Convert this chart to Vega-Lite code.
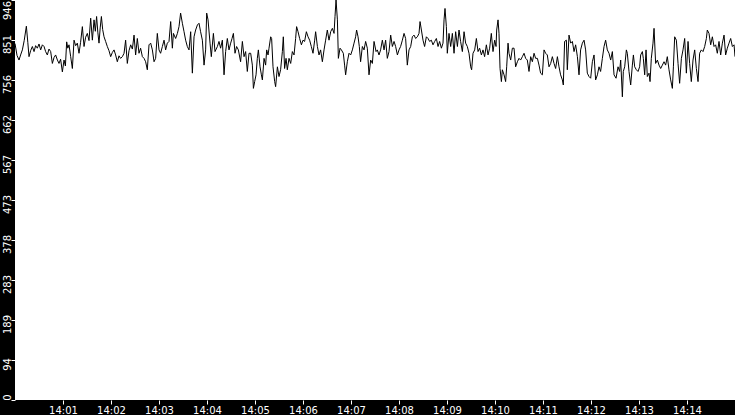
{
  "$schema": "https://vega.github.io/schema/vega-lite/v6.json",
  "autosize": {"type": "none"},
  "padding": {"left": 15, "top": 0, "right": 0, "bottom": 15},
  "width": 720,
  "height": 400,
  "background": "black",
  "data": {
    "values": [
      {"s":0,"v":843},{"s":2.5,"v":815},{"s":5,"v":804},{"s":7,"v":816},{"s":9.2,"v":828},{"s":11.5,"v":850},{"s":14.2,"v":884},{"s":16,"v":846},{"s":17.5,"v":812},{"s":19.5,"v":826},
      {"s":21.7,"v":836},{"s":23.8,"v":824},{"s":25.8,"v":838},{"s":27.9,"v":832},{"s":30,"v":842},{"s":32.1,"v":828},{"s":34.2,"v":840},{"s":36.3,"v":836},{"s":38.3,"v":824},{"s":40.4,"v":816},
      {"s":42.5,"v":830},{"s":44.6,"v":824},{"s":46.7,"v":796},{"s":48.8,"v":810},{"s":50.8,"v":816},{"s":53,"v":804},{"s":55,"v":796},{"s":57,"v":806},{"s":59.2,"v":776},{"s":61.3,"v":804},
      {"s":63,"v":790},{"s":64.6,"v":847},{"s":66,"v":832},{"s":67.5,"v":840},{"s":69.6,"v":812},{"s":71.7,"v":784},{"s":73.8,"v":851},{"s":75.8,"v":838},{"s":77.9,"v":844},{"s":80,"v":820},
      {"s":82,"v":846},{"s":84.2,"v":883},{"s":86.3,"v":836},{"s":88.3,"v":858},{"s":90.4,"v":867},{"s":92.5,"v":850},{"s":94.6,"v":903},{"s":96.7,"v":851},{"s":98.8,"v":899},{"s":100.4,"v":872},
      {"s":102,"v":907},{"s":103.5,"v":870},{"s":105,"v":844},{"s":106.5,"v":880},{"s":108,"v":907},{"s":109.6,"v":876},{"s":111.3,"v":859},{"s":113.3,"v":848},{"s":115.4,"v":836},{"s":117.5,"v":826},
      {"s":119.6,"v":812},{"s":121.7,"v":822},{"s":123.8,"v":828},{"s":125.8,"v":816},{"s":127.9,"v":800},{"s":130,"v":814},{"s":132,"v":808},{"s":134.2,"v":812},{"s":136.3,"v":820},{"s":138.3,"v":851},
      {"s":140.4,"v":796},{"s":142.5,"v":826},{"s":144.6,"v":840},{"s":146.7,"v":830},{"s":148.8,"v":863},{"s":150.8,"v":816},{"s":152.9,"v":855},{"s":155,"v":820},{"s":157,"v":832},{"s":159.2,"v":812},
      {"s":161.3,"v":808},{"s":163.3,"v":800},{"s":165.4,"v":781},{"s":167.5,"v":840},{"s":169.6,"v":844},{"s":171.7,"v":828},{"s":173.8,"v":800},{"s":175.8,"v":808},{"s":177.9,"v":867},{"s":180,"v":828},
      {"s":182,"v":820},{"s":184.2,"v":836},{"s":186.3,"v":851},{"s":188.3,"v":828},{"s":190.4,"v":844},{"s":192.5,"v":848},{"s":194.6,"v":895},{"s":196.7,"v":832},{"s":198,"v":867},{"s":200.8,"v":855},
      {"s":203,"v":867},{"s":205,"v":883},{"s":207,"v":915},{"s":209.2,"v":891},{"s":211.3,"v":871},{"s":213.3,"v":851},{"s":215.4,"v":836},{"s":217.5,"v":828},{"s":219.6,"v":871},{"s":221.7,"v":773},
      {"s":223.8,"v":859},{"s":225.8,"v":875},{"s":228,"v":887},{"s":230,"v":891},{"s":232,"v":871},{"s":234.2,"v":851},{"s":236.3,"v":792},{"s":238.3,"v":828},{"s":239.6,"v":915},{"s":241.3,"v":899},
      {"s":243.8,"v":844},{"s":245.4,"v":812},{"s":248,"v":867},{"s":250,"v":824},{"s":253,"v":836},{"s":255,"v":848},{"s":257,"v":832},{"s":259.2,"v":851},{"s":261.3,"v":769},{"s":263.3,"v":824},
      {"s":265.4,"v":855},{"s":267.5,"v":828},{"s":269.6,"v":844},{"s":271.3,"v":855},{"s":273,"v":867},{"s":275,"v":820},{"s":277,"v":836},{"s":279.2,"v":828},{"s":282,"v":800},{"s":284.2,"v":848},
      {"s":286.3,"v":812},{"s":288.3,"v":824},{"s":290.4,"v":777},{"s":292.5,"v":820},{"s":294.6,"v":820},{"s":296.7,"v":792},{"s":298,"v":737},{"s":299.6,"v":753},{"s":301.3,"v":769},{"s":302.9,"v":808},
      {"s":304.2,"v":828},{"s":306.3,"v":788},{"s":308,"v":769},{"s":309.2,"v":757},{"s":311.3,"v":808},{"s":313.3,"v":792},{"s":314.6,"v":828},{"s":316.3,"v":816},{"s":317.5,"v":832},{"s":319.6,"v":859},
      {"s":320.8,"v":855},{"s":322.5,"v":788},{"s":324.6,"v":753},{"s":325.8,"v":741},{"s":328,"v":788},{"s":330,"v":765},{"s":332,"v":781},{"s":334.2,"v":824},{"s":335.4,"v":859},{"s":337,"v":784},
      {"s":338.8,"v":808},{"s":340.4,"v":781},{"s":342.5,"v":808},{"s":344.6,"v":796},{"s":346.7,"v":824},{"s":348.8,"v":816},{"s":350.8,"v":855},{"s":352,"v":883},{"s":353.8,"v":871},{"s":355.8,"v":855},
      {"s":358,"v":840},{"s":360,"v":851},{"s":362,"v":848},{"s":364.2,"v":871},{"s":366.3,"v":859},{"s":368.3,"v":851},{"s":370.4,"v":836},{"s":372.5,"v":820},{"s":374.6,"v":851},{"s":375.8,"v":871},
      {"s":378,"v":836},{"s":380,"v":816},{"s":382,"v":828},{"s":384.2,"v":800},{"s":386.3,"v":828},{"s":388.3,"v":851},{"s":390.4,"v":875},{"s":392.5,"v":851},{"s":394.6,"v":871},{"s":396.7,"v":879},
      {"s":398.8,"v":867},{"s":400,"v":907},{"s":401.3,"v":946},{"s":403,"v":899},{"s":404.2,"v":808},{"s":406.3,"v":832},{"s":408,"v":828},{"s":410.4,"v":820},{"s":412,"v":792},{"s":413.3,"v":769},
      {"s":415.4,"v":800},{"s":417.5,"v":820},{"s":419.6,"v":816},{"s":421.7,"v":828},{"s":423.8,"v":844},{"s":425.8,"v":859},{"s":427,"v":875},{"s":428.8,"v":859},{"s":430.4,"v":836},{"s":432,"v":800},
      {"s":434.2,"v":836},{"s":436.3,"v":828},{"s":438.3,"v":848},{"s":440.4,"v":832},{"s":442.5,"v":769},{"s":444.6,"v":804},{"s":446.7,"v":796},{"s":448.8,"v":848},{"s":451.3,"v":824},{"s":452.9,"v":828},
      {"s":455,"v":816},{"s":457,"v":828},{"s":459.2,"v":851},{"s":461.3,"v":828},{"s":463.3,"v":851},{"s":465.4,"v":808},{"s":467.5,"v":824},{"s":469.6,"v":863},{"s":471.7,"v":836},{"s":473.8,"v":848},
      {"s":475.8,"v":836},{"s":478,"v":816},{"s":480,"v":828},{"s":482,"v":836},{"s":484.2,"v":851},{"s":486.3,"v":867},{"s":488.3,"v":855},{"s":490.4,"v":792},{"s":492.5,"v":828},{"s":494.6,"v":836},
      {"s":496.7,"v":859},{"s":498.8,"v":863},{"s":500.8,"v":855},{"s":503,"v":859},{"s":505,"v":867},{"s":506.3,"v":895},{"s":508,"v":875},{"s":510,"v":851},{"s":512,"v":836},{"s":514.2,"v":859},
      {"s":516.3,"v":855},{"s":518.3,"v":848},{"s":520.4,"v":851},{"s":522.5,"v":840},{"s":524.6,"v":848},{"s":526.7,"v":855},{"s":528.8,"v":836},{"s":530.8,"v":848},{"s":533,"v":832},{"s":535,"v":844},
      {"s":536.3,"v":899},{"s":537.5,"v":926},{"s":539.2,"v":883},{"s":540.4,"v":820},{"s":542.5,"v":867},{"s":544.6,"v":836},{"s":546.7,"v":867},{"s":548.8,"v":820},{"s":550.8,"v":871},{"s":553,"v":836},
      {"s":555,"v":875},{"s":557,"v":848},{"s":559.2,"v":824},{"s":561.3,"v":871},{"s":563.3,"v":844},{"s":565.4,"v":836},{"s":567.5,"v":820},{"s":569.6,"v":788},{"s":570.8,"v":781},{"s":572.5,"v":820},
      {"s":574.6,"v":828},{"s":576.7,"v":855},{"s":578.8,"v":824},{"s":580.8,"v":832},{"s":583,"v":816},{"s":585,"v":828},{"s":587,"v":812},{"s":589.2,"v":840},{"s":591.3,"v":816},{"s":593.3,"v":832},
      {"s":595.4,"v":867},{"s":597.5,"v":824},{"s":599.6,"v":851},{"s":601.3,"v":836},{"s":602.1,"v":875},{"s":603.8,"v":899},{"s":605,"v":867},{"s":606.3,"v":784},{"s":608,"v":753},{"s":609.2,"v":781},
      {"s":611.3,"v":769},{"s":613.3,"v":753},{"s":614.6,"v":788},{"s":616.3,"v":844},{"s":617.5,"v":820},{"s":619.6,"v":804},{"s":621.7,"v":832},{"s":623.8,"v":832},{"s":625.8,"v":788},{"s":628,"v":800},
      {"s":630,"v":808},{"s":632,"v":804},{"s":634.2,"v":812},{"s":636.3,"v":820},{"s":638.3,"v":808},{"s":640.4,"v":804},{"s":642.5,"v":777},{"s":644.6,"v":812},{"s":646.7,"v":800},{"s":648.8,"v":820},
      {"s":650.8,"v":808},{"s":653,"v":808},{"s":655,"v":792},{"s":657,"v":773},{"s":659.2,"v":769},{"s":661.3,"v":828},{"s":663.3,"v":820},{"s":665.4,"v":816},{"s":667.5,"v":788},{"s":669.6,"v":796},
      {"s":671.7,"v":812},{"s":673.8,"v":796},{"s":675.8,"v":784},{"s":678,"v":812},{"s":680,"v":788},{"s":682,"v":769},{"s":684.2,"v":757},{"s":685.4,"v":745},{"s":687,"v":848},{"s":689.2,"v":851},
      {"s":690.4,"v":781},{"s":692.5,"v":863},{"s":694.6,"v":844},{"s":696.7,"v":848},{"s":698.8,"v":824},{"s":700.8,"v":840},{"s":703,"v":812},{"s":705,"v":769},{"s":707,"v":828},{"s":709.2,"v":844},
      {"s":711.3,"v":851},{"s":713.3,"v":828},{"s":715.4,"v":773},{"s":717.5,"v":765},{"s":719.6,"v":761},{"s":721.7,"v":800},{"s":723.8,"v":816},{"s":725.8,"v":757},{"s":728,"v":769},{"s":730,"v":788},
      {"s":732,"v":777},{"s":734.2,"v":808},{"s":736.3,"v":836},{"s":738.3,"v":851},{"s":740.4,"v":828},{"s":742.5,"v":820},{"s":744.6,"v":804},{"s":746.7,"v":824},{"s":748.8,"v":769},{"s":751.3,"v":761},
      {"s":753.8,"v":788},{"s":755.8,"v":777},{"s":757.1,"v":804},{"s":759.2,"v":717},{"s":760.4,"v":777},{"s":762.1,"v":788},{"s":764.2,"v":828},{"s":765.4,"v":820},{"s":767.5,"v":777},{"s":769.6,"v":745},
      {"s":771.7,"v":792},{"s":773,"v":816},{"s":774.6,"v":788},{"s":776.7,"v":781},{"s":778.8,"v":777},{"s":780.8,"v":788},{"s":782.1,"v":816},{"s":784.2,"v":824},{"s":785.4,"v":808},{"s":787.1,"v":769},
      {"s":788.8,"v":828},{"s":790.4,"v":765},{"s":792.5,"v":773},{"s":793.8,"v":753},{"s":795.4,"v":808},{"s":797.5,"v":844},{"s":798.8,"v":879},{"s":800.8,"v":796},{"s":803,"v":804},{"s":805,"v":792},
      {"s":807.1,"v":784},{"s":809.2,"v":792},{"s":811.3,"v":800},{"s":813.3,"v":792},{"s":815.4,"v":812},{"s":817.5,"v":781},{"s":819.6,"v":757},{"s":821.7,"v":737},{"s":823,"v":788},{"s":824.6,"v":859},
      {"s":826.7,"v":851},{"s":828.8,"v":796},{"s":830.8,"v":749},{"s":833,"v":808},{"s":835,"v":828},{"s":837.1,"v":855},{"s":839.2,"v":773},{"s":841.3,"v":848},{"s":843.3,"v":796},{"s":845.4,"v":753},
      {"s":847.5,"v":804},{"s":849.6,"v":828},{"s":851.7,"v":784},{"s":853.8,"v":753},{"s":855.8,"v":820},{"s":857.9,"v":828},{"s":860,"v":824},{"s":862.1,"v":836},{"s":864.2,"v":855},{"s":865.4,"v":875},
      {"s":867.5,"v":867},{"s":869.6,"v":840},{"s":871.7,"v":859},{"s":873.8,"v":836},{"s":875.8,"v":840},{"s":877.9,"v":820},{"s":880,"v":848},{"s":882.1,"v":816},{"s":884.2,"v":844},{"s":886.3,"v":863},
      {"s":888.3,"v":816},{"s":890.4,"v":832},{"s":892.5,"v":844},{"s":894.6,"v":855},{"s":896.7,"v":836},{"s":898.8,"v":840},{"s":900,"v":812}
    ]
  },
  "mark": {"type": "line", "color": "black", "strokeWidth": 1, "interpolate": "linear"},
  "encoding": {
    "x": {
      "field": "s",
      "type": "quantitative",
      "scale": {"domain": [0, 900], "nice": false, "zero": false},
      "axis": {
        "title": null,
        "values": [60, 120, 180, 240, 300, 360, 420, 480, 540, 600, 660, 720, 780, 840],
        "labelExpr": "'14:' + (datum.value < 600 ? '0' : '') + (datum.value / 60)",
        "grid": false,
        "domain": false,
        "tickColor": "white",
        "tickSize": 4,
        "labelColor": "white",
        "labelFont": "DejaVu Sans",
        "labelFontSize": 10,
        "labelPadding": 1,
        "labelFlush": false,
        "labelOverlap": false
      }
    },
    "y": {
      "field": "v",
      "type": "quantitative",
      "scale": {"domain": [0, 946], "nice": false},
      "axis": {
        "title": null,
        "values": [0, 94.6, 189.2, 283.8, 378.4, 473, 567.6, 662.2, 756.8, 851.4, 946],
        "labelExpr": "floor(datum.value)",
        "grid": false,
        "domain": false,
        "tickColor": "white",
        "tickSize": 4,
        "labelColor": "white",
        "labelFont": "DejaVu Sans",
        "labelFontSize": 10,
        "labelAngle": -90,
        "labelAlign": "center",
        "labelBaseline": "alphabetic",
        "labelOffset": {
          "condition": [
            {"test": "datum.value < 1", "value": -3},
            {"test": "datum.value > 945", "value": 10}
          ],
          "value": 4
        },
        "labelPadding": 1,
        "labelFlush": false,
        "labelOverlap": false
      }
    }
  },
  "config": {
    "view": {"fill": "white", "stroke": null}
  }
}
